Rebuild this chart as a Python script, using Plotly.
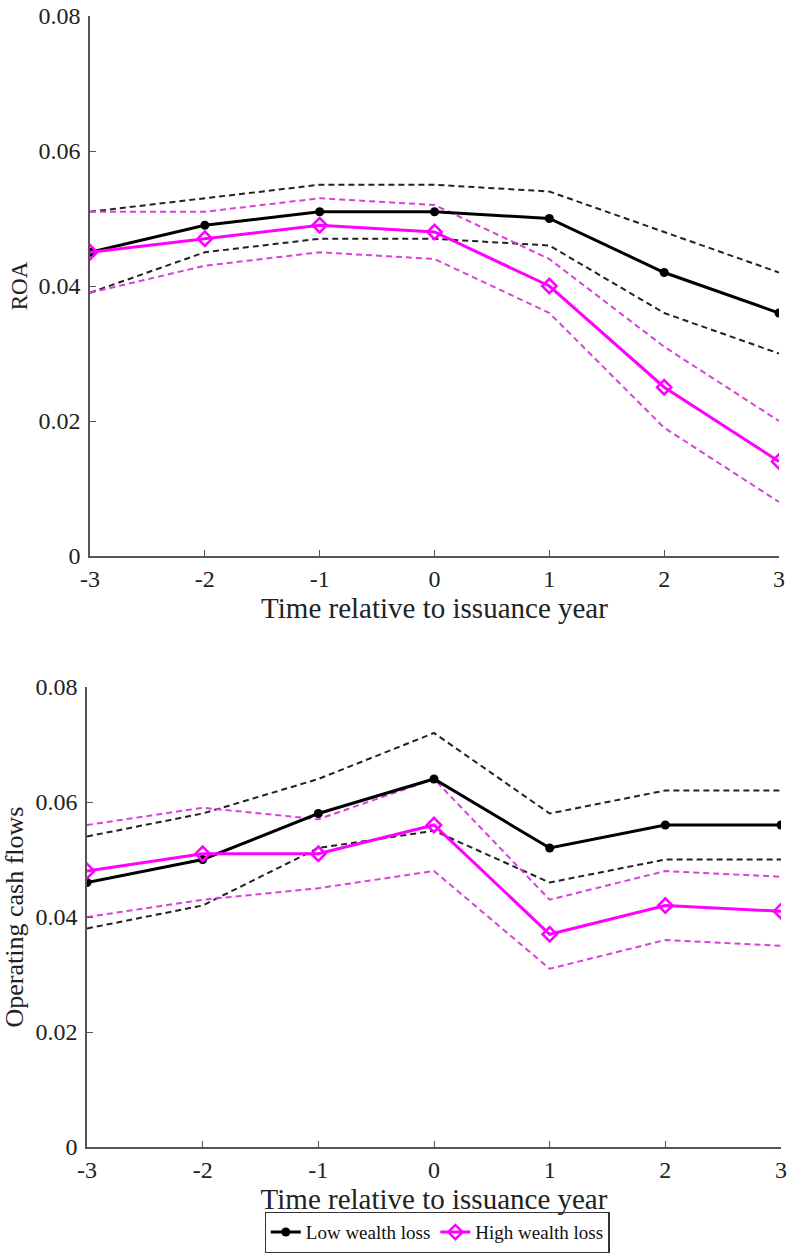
import plotly.graph_objects as go

years = [-3, -2, -1, 0, 1, 2, 3]
x_ticks = [-3, -2, -1, 0, 1, 2, 3]
x_tick_labels = ["-3", "-2", "-1", "0", "1", "2", "3"]
y_ticks = [0, 0.02, 0.04, 0.06, 0.08]
y_tick_labels = ["0", "0.02", "0.04", "0.06", "0.08"]

# Panel 1: ROA
roa_low = [0.045, 0.049, 0.051, 0.051, 0.050, 0.042, 0.036]
roa_low_upper = [0.051, 0.053, 0.055, 0.055, 0.054, 0.048, 0.042]
roa_low_lower = [0.039, 0.045, 0.047, 0.047, 0.046, 0.036, 0.030]
roa_high = [0.045, 0.047, 0.049, 0.048, 0.040, 0.025, 0.014]
roa_high_upper = [0.051, 0.051, 0.053, 0.052, 0.044, 0.031, 0.020]
roa_high_lower = [0.039, 0.043, 0.045, 0.044, 0.036, 0.019, 0.008]

# Panel 2: Operating cash flows
ocf_low = [0.046, 0.050, 0.058, 0.064, 0.052, 0.056, 0.056]
ocf_low_upper = [0.054, 0.058, 0.064, 0.072, 0.058, 0.062, 0.062]
ocf_low_lower = [0.038, 0.042, 0.052, 0.055, 0.046, 0.050, 0.050]
ocf_high = [0.048, 0.051, 0.051, 0.056, 0.037, 0.042, 0.041]
ocf_high_upper = [0.056, 0.059, 0.057, 0.064, 0.043, 0.048, 0.047]
ocf_high_lower = [0.040, 0.043, 0.045, 0.048, 0.031, 0.036, 0.035]

BLACK = "#000000"
MAG = "#FF00FF"
FONT = "Liberation Serif"
TXT = "#222222"

fig = go.Figure()

def add_panel(xa, ya, low, lu, ll, high, hu, hl, show):
    for arr in (lu, ll):
        fig.add_trace(go.Scatter(x=years, y=arr, mode="lines", xaxis=xa, yaxis=ya,
                                 line=dict(color="#222222", width=2, dash="6px,4px"),
                                 showlegend=False, hoverinfo="skip"))
    for arr in (hu, hl):
        fig.add_trace(go.Scatter(x=years, y=arr, mode="lines", xaxis=xa, yaxis=ya,
                                 line=dict(color="#DA40DA", width=2, dash="6px,4px"),
                                 showlegend=False, hoverinfo="skip"))
    fig.add_trace(go.Scatter(x=years, y=low, mode="lines+markers", xaxis=xa, yaxis=ya,
                             name="Low wealth loss", showlegend=show,
                             line=dict(color=BLACK, width=3),
                             marker=dict(symbol="circle", size=9, color=BLACK)))
    fig.add_trace(go.Scatter(x=years, y=high, mode="lines+markers", xaxis=xa, yaxis=ya,
                             name="High wealth loss", showlegend=show,
                             line=dict(color=MAG, width=3),
                             marker=dict(symbol="diamond-open", size=11, color=MAG,
                                         line=dict(color=MAG, width=2.5))))

add_panel("x", "y", roa_low, roa_low_upper, roa_low_lower,
          roa_high, roa_high_upper, roa_high_lower, True)
add_panel("x2", "y2", ocf_low, ocf_low_upper, ocf_low_lower,
          ocf_high, ocf_high_upper, ocf_high_lower, False)

W, H = 789, 1255

def xax(d0, d1, anchor):
    return dict(domain=[d0 / W, d1 / W], anchor=anchor, range=[-3, 3],
                tickvals=x_ticks, ticktext=x_tick_labels, automargin=False,
                showline=True, linecolor="#555555", linewidth=1.5,
                ticks="inside", ticklen=6, tickcolor="#555555", tickwidth=1.2,
                showgrid=False, zeroline=False, mirror=False,
                tickfont=dict(family=FONT, size=24, color=TXT),
                title=dict(text="Time relative to issuance year",
                           font=dict(family=FONT, size=29, color=TXT),
                           standoff=2))

def yax(top, bottom, anchor, title, tsize):
    return dict(domain=[1 - bottom / H, 1 - top / H], anchor=anchor, range=[0, 0.08],
                tickvals=y_ticks, ticktext=y_tick_labels, automargin=False,
                showline=True, linecolor="#555555", linewidth=1.5,
                ticks="inside", ticklen=6, tickcolor="#555555", tickwidth=1.2,
                showgrid=False, zeroline=False, mirror=False, ticklabelstandoff=3,
                tickfont=dict(family=FONT, size=24, color=TXT),
                title=dict(text=title, font=dict(family=FONT, size=tsize, color=TXT),
                           standoff=4))

fig.update_layout(
    width=W, height=H,
    margin=dict(l=0, r=0, t=0, b=0, autoexpand=False),
    paper_bgcolor="white", plot_bgcolor="white",
    xaxis=xax(90, 779, "y"),
    yaxis=yax(16, 556, "x", "ROA", 23),
    xaxis2=xax(87, 781, "y2"),
    yaxis2=yax(687, 1147, "x2", "Operating cash flows", 26),
    legend=dict(orientation="h", x=0.554, y=1 - 1253 / H, xanchor="center", yanchor="bottom",
                bordercolor="#333333", borderwidth=1.2, bgcolor="white",
                font=dict(family=FONT, size=19, color="#111111"),
                tracegroupgap=0),
    showlegend=True,
)

fig.write_html("out.html", config={"displayModeBar": False},
               post_script="document.body.style.margin='0';document.body.style.overflow='hidden';")
